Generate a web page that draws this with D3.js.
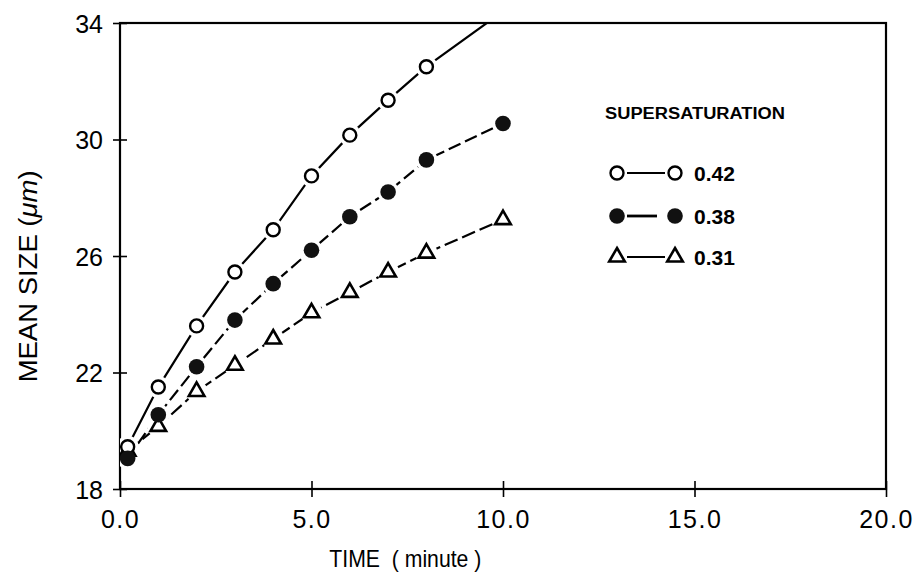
<!DOCTYPE html>
<html>
<head>
<meta charset="utf-8">
<script src="https://cdn.jsdelivr.net/npm/d3@7"></script>
<style>
  body { margin: 0; background: #fff; }
  text { font-family: "Liberation Sans", Arial, sans-serif; fill: #000; }
</style>
</head>
<body>
<div id="chart"></div>
<script>
var svgWidth = 918;
var svgHeight = 577;

var margin = { top: 23, right: 32, bottom: 88, left: 120 };
var chartWidth = svgWidth - margin.left - margin.right;
var chartHeight = svgHeight - margin.top - margin.bottom;

// data
var times = [0.2, 1, 2, 3, 4, 5, 6, 7, 8, 10];
var s042 = [19.45, 21.5, 23.6, 25.45, 26.9, 28.75, 30.15, 31.35, 32.5, 34.4];
var s038 = [19.05, 20.55, 22.2, 23.8, 25.05, 26.2, 27.35, 28.2, 29.3, 30.55];
var s031 = [19.3, 20.15, 21.35, 22.25, 23.15, 24.05, 24.75, 25.45, 26.1, 27.25];
var xTicks = [0, 5, 10, 15, 20];
var yTicks = [18, 22, 26, 30, 34];
var seriesNames = ["0.42", "0.38", "0.31"];

var series = [
  { name: seriesNames[0], values: s042, marker: "open", dash: null },
  { name: seriesNames[1], values: s038, marker: "filled", dash: "13,5" },
  { name: seriesNames[2], values: s031, marker: "triangle", dash: "14,5" }
];

var svg = d3.select("#chart")
  .append("svg")
  .attr("width", svgWidth)
  .attr("height", svgHeight);

var chartGroup = svg.append("g")
  .attr("transform", `translate(${margin.left},${margin.top})`);

var xScale = d3.scaleLinear().domain([0, 20]).range([0, chartWidth]);
var yScale = d3.scaleLinear().domain([18, 34]).range([chartHeight, 0]);

svg.append("defs").append("clipPath").attr("id", "plotclip")
  .append("rect").attr("width", chartWidth).attr("height", chartHeight);

// frame
chartGroup.append("rect")
  .attr("width", chartWidth).attr("height", chartHeight)
  .attr("fill", "none").attr("stroke", "#000").attr("stroke-width", 2.2);

// axes with ticks crossing the line
var xAxis = d3.axisBottom(xScale).tickValues(xTicks).tickSize(8).tickFormat(d3.format(".1f"));
var yAxis = d3.axisLeft(yScale).tickValues(yTicks).tickSize(6).tickFormat(d3.format("d"));

var gx = chartGroup.append("g").attr("transform", `translate(0,${chartHeight})`).call(xAxis)
  .attr("font-size", 25).attr("font-family", "Liberation Sans, Arial, sans-serif");
gx.select(".domain").remove();
gx.selectAll(".tick line").attr("y1", -8).attr("y2", 8).attr("stroke-width", 1.6);
gx.selectAll(".tick text").attr("y", 39).attr("dy", 0).attr("letter-spacing", 1.5);

var gy = chartGroup.append("g").call(yAxis)
  .attr("font-size", 25).attr("font-family", "Liberation Sans, Arial, sans-serif");
gy.select(".domain").remove();
gy.selectAll(".tick line").attr("x1", -7).attr("x2", 7).attr("stroke-width", 1.6);
gy.selectAll(".tick text").attr("x", -17).attr("dy", "0.36em");

// axis titles
chartGroup.append("text")
  .attr("x", xScale(7.45)).attr("y", chartHeight + 78)
  .attr("text-anchor", "middle").attr("font-size", 24)
  .attr("xml:space", "preserve")
  .attr("textLength", 152).attr("lengthAdjust", "spacingAndGlyphs")
  .text("TIME  ( minute )");

var yTitle = chartGroup.append("text")
  .attr("transform", `translate(${-83},${yScale(25.3)}) rotate(-90)`)
  .attr("text-anchor", "middle").attr("font-size", 25)
  .attr("textLength", 212).attr("lengthAdjust", "spacingAndGlyphs");
yTitle.append("tspan").text("MEAN SIZE (");
yTitle.append("tspan").attr("font-style", "italic").text("\u03bcm");
yTitle.append("tspan").text(")");

// lines
var plot = chartGroup.append("g").attr("clip-path", "url(#plotclip)");

var line = d3.line()
  .x((d, i) => xScale(times[i]))
  .y(d => yScale(d));

series.forEach(function(s) {
  plot.append("path")
    .datum(s.values)
    .attr("d", line)
    .attr("fill", "none")
    .attr("stroke", "#000")
    .attr("stroke-width", 2.2)
    .attr("stroke-dasharray", s.dash);
});

var tri = d3.symbol().type(d3.symbolTriangle).size(105);

function drawHalo(g, cx, cy) {
  g.append("circle").attr("cx", cx).attr("cy", cy).attr("r", 11).attr("fill", "#fff");
}

function drawMarker(g, type, cx, cy) {
  if (type === "open") {
    g.append("circle").attr("cx", cx).attr("cy", cy).attr("r", 6.5)
      .attr("fill", "#fff").attr("stroke", "#000").attr("stroke-width", 2.4);
  } else if (type === "filled") {
    g.append("circle").attr("cx", cx).attr("cy", cy).attr("r", 7.8)
      .attr("fill", "#111");
  } else {
    g.append("path").attr("d", tri)
      .attr("transform", `translate(${cx},${cy})`)
      .attr("fill", "#fff").attr("stroke", "#000").attr("stroke-width", 2.6)
      .attr("stroke-linejoin", "miter");
  }
}

// halos for gaps in the lines, then markers
var halos = plot.append("g");
series.forEach(function(s) {
  s.values.forEach(function(v, i) { drawHalo(halos, xScale(times[i]), yScale(v)); });
});
[series[2], series[0], series[1]].forEach(function(s) {
  var g = plot.append("g");
  s.values.forEach(function(v, i) {
    drawMarker(g, s.marker, xScale(times[i]), yScale(v));
  });
});

// legend
var legend = chartGroup.append("g").attr("transform", "translate(485,0)");
legend.append("text")
  .attr("x", 0).attr("y", 96)
  .attr("font-size", 16).attr("font-weight", "bold")
  .attr("textLength", 180).attr("lengthAdjust", "spacingAndGlyphs")
  .text("SUPERSATURATION");

var rowY = [150, 193, 234];
series.forEach(function(s, i) {
  var row = legend.append("g").attr("transform", `translate(0,${rowY[i]})`);
  row.append("line")
    .attr("x1", 22).attr("x2", s.marker === "filled" ? 52 : 60).attr("y1", 0).attr("y2", 0)
    .attr("stroke", "#000").attr("stroke-width", s.marker === "filled" ? 2.8 : 2.2);
  drawMarker(row, s.marker, 12, 0);
  drawMarker(row, s.marker, 70, 0);
  row.append("text")
    .attr("x", 89).attr("y", 0).attr("dy", "0.36em")
    .attr("font-size", 21).attr("font-weight", "bold")
    .text(s.name);
});
</script>
</body>
</html>
